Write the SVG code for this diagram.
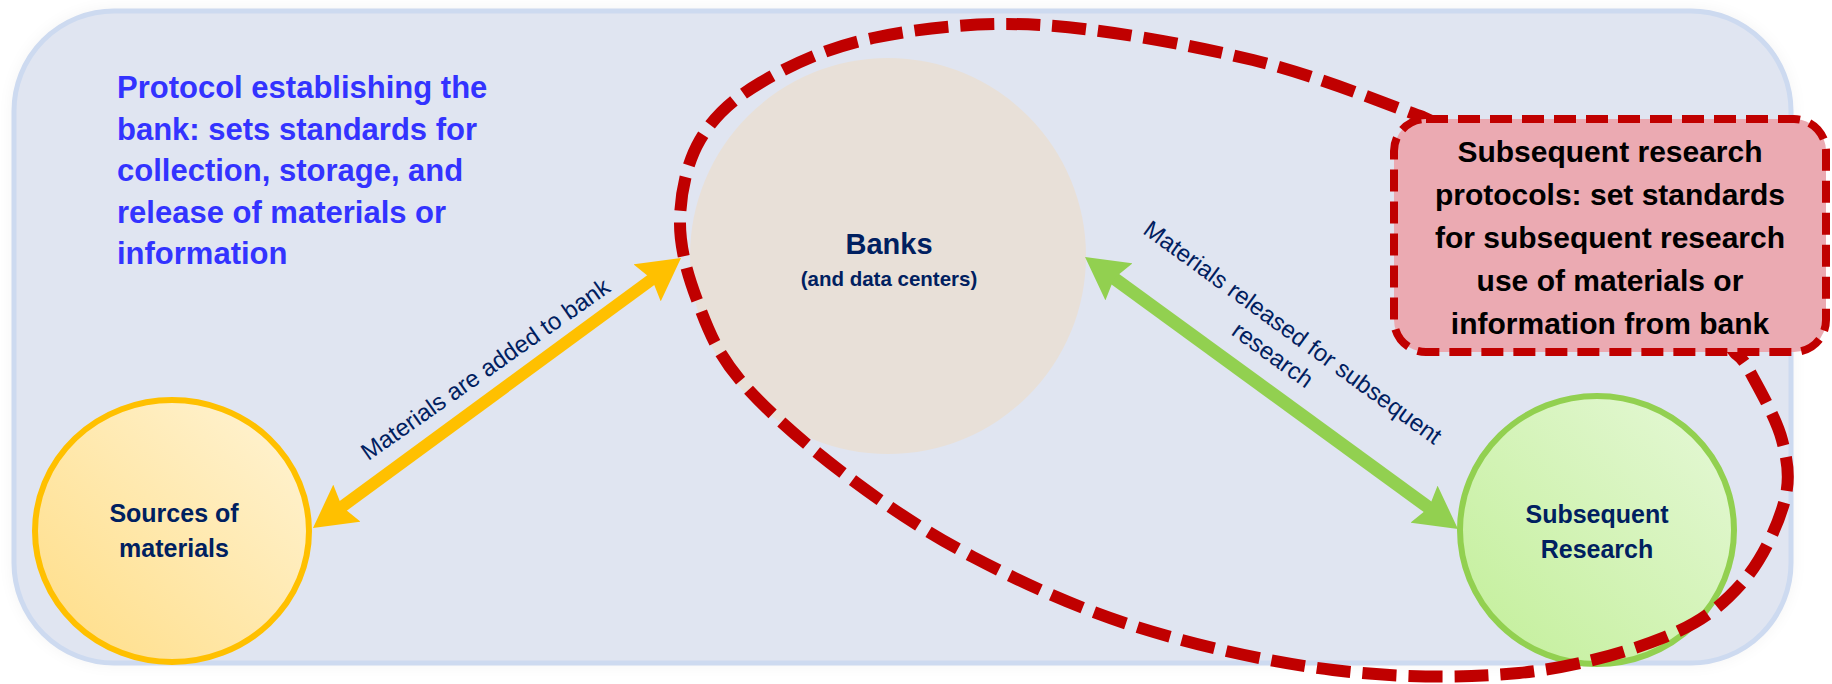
<svg xmlns="http://www.w3.org/2000/svg" width="1832" height="684" viewBox="0 0 1832 684">
<style>
  .t { font-family: "Liberation Sans", Arial, sans-serif; }
  .node { font-weight: bold; fill: #002060; text-anchor: middle; }
  .lbl { font-size: 24px; fill: #002060; text-anchor: middle; }
  .proto { font-size: 31px; font-weight: bold; fill: #3333ff; }
  .box { font-size: 30px; font-weight: bold; fill: #000000; text-anchor: middle; }
  .loop { fill: none; stroke: #c00000; stroke-width: 12; stroke-dasharray: 34 12; }
</style>
<defs>
  <linearGradient id="gYellow" x1="0" y1="1" x2="1" y2="0">
    <stop offset="0" stop-color="#ffdd85"/>
    <stop offset="1" stop-color="#fff4d6"/>
  </linearGradient>
  <linearGradient id="gGreen" x1="0" y1="1" x2="1" y2="0">
    <stop offset="0" stop-color="#c2ef98"/>
    <stop offset="1" stop-color="#e6f8d8"/>
  </linearGradient>
  <filter id="shadow" x="-5%" y="-10%" width="110%" height="120%">
    <feGaussianBlur stdDeviation="9"/>
  </filter>
  <marker id="headY" markerUnits="userSpaceOnUse" viewBox="0 0 42 46" markerWidth="42" markerHeight="46" refX="10" refY="23" orient="auto-start-reverse">
    <path d="M0,0 L42,23 L0,46 L6,23 Z" fill="#ffc000"/>
  </marker>
  <marker id="headG" markerUnits="userSpaceOnUse" viewBox="0 0 42 46" markerWidth="42" markerHeight="46" refX="10" refY="23" orient="auto-start-reverse">
    <path d="M0,0 L42,23 L0,46 L6,23 Z" fill="#92d050"/>
  </marker>
</defs>

<rect x="0" y="0" width="1832" height="684" fill="#ffffff"/>
<g id="background">
  <rect x="14" y="11" width="1777" height="652" rx="100" fill="#000000" opacity="0.06" filter="url(#shadow)"/>
  <rect x="14" y="11" width="1777" height="652" rx="100" fill="#e0e5f1" stroke="#cddaf0" stroke-width="5"/>
</g>

<g id="protocol-text" class="t">
  <text class="t proto" x="117" y="98">Protocol establishing the</text>
  <text class="t proto" x="117" y="139.5">bank: sets standards for</text>
  <text class="t proto" x="117" y="181">collection, storage, and</text>
  <text class="t proto" x="117" y="222.5">release of materials or</text>
  <text class="t proto" x="117" y="264">information</text>
</g>

<g id="banks">
  <ellipse cx="888" cy="256" rx="198" ry="198" fill="#e8e0d8"/>
  <text class="t node" x="889" y="254" font-size="29">Banks</text>
  <text class="t node" x="889" y="286" font-size="20.5">(and data centers)</text>
</g>

<g id="sources">
  <ellipse cx="172" cy="531" rx="137" ry="131" fill="url(#gYellow)" stroke="#ffc000" stroke-width="6"/>
  <text class="t node" x="174" y="522" font-size="25">Sources of</text>
  <text class="t node" x="174" y="557" font-size="25">materials</text>
</g>

<g id="subsequent-research">
  <ellipse cx="1597" cy="530" rx="137" ry="134" fill="url(#gGreen)" stroke="#92d050" stroke-width="6"/>
  <text class="t node" x="1597" y="523" font-size="25">Subsequent</text>
  <text class="t node" x="1597" y="558" font-size="25">Research</text>
</g>

<g id="connectors">
  <line x1="338.8" y1="509.1" x2="655.2" y2="276.9" stroke="#ffc000" stroke-width="12" marker-start="url(#headY)" marker-end="url(#headY)"/>
  <line x1="1110.9" y1="275.9" x2="1432.1" y2="510.1" stroke="#92d050" stroke-width="13" marker-start="url(#headG)" marker-end="url(#headG)"/>
  <g transform="translate(490,376) rotate(-35)">
    <text class="t lbl" x="0" y="0">Materials are added to bank</text>
  </g>
  <g transform="translate(1288,339) rotate(36)">
    <text class="t lbl" x="0" y="0">Materials released for subsequent</text>
    <text class="t lbl" x="-3" y="30">research</text>
  </g>
  <path class="loop" d="M1440,125 L1423,117 C1394.7,107.5 1316.8,75.3 1253,60 C1189.2,44.7 1103.3,28.7 1040,25 C976.7,21.3 919.7,28.3 873,38 C826.3,47.7 788.8,66 760,83 C731.2,100 713.3,117.2 700,140 C686.7,162.8 680.5,193.3 680,220 C679.5,246.7 687,273.3 697,300 C707,326.7 715.7,351.2 740,380 C764.3,408.8 804.2,443.5 843,473 C881.8,502.5 924,531.3 973,557 C1022,582.7 1077,608.2 1137,627 C1197,645.8 1269.3,662.3 1333,670 C1396.7,677.7 1463.7,678.5 1519,673 C1574.3,667.5 1627.8,652 1665,637 C1702.2,622 1722.2,605.3 1742,583 C1761.8,560.7 1777.3,526.8 1784,503 C1790.7,479.2 1787.8,462.2 1782,440 C1776.2,417.8 1756.8,384.5 1749,370 C1741.2,355.5 1737.3,355.8 1735,353 L1725,340"/>
</g>

<g id="research-protocols">
  <rect x="1394" y="119" width="432" height="233" rx="32" fill="#ebaab2" stroke="#c00000" stroke-width="8" stroke-dasharray="22 10"/>
  <text class="t box" x="1610" y="162">Subsequent research</text>
  <text class="t box" x="1610" y="205">protocols: set standards</text>
  <text class="t box" x="1610" y="248">for subsequent research</text>
  <text class="t box" x="1610" y="291">use of materials or</text>
  <text class="t box" x="1610" y="334">information from bank</text>
</g>
</svg>
